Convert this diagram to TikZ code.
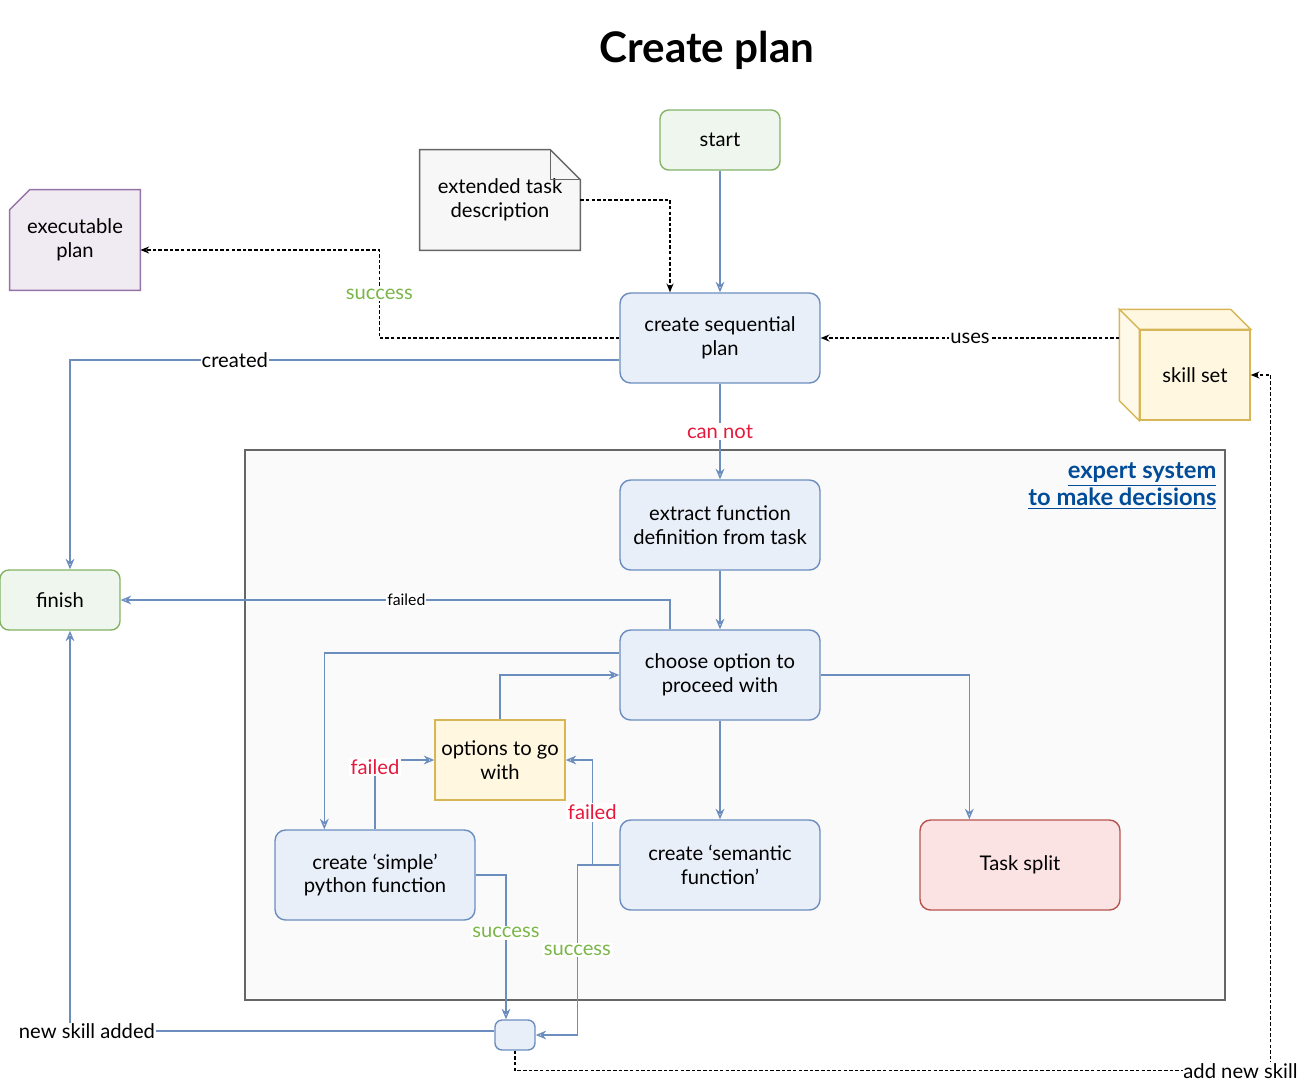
\documentclass[tikz,border=0pt]{standalone}
\usepackage{fontspec}
\setmainfont{Lato}
\setsansfont{Lato}
\usetikzlibrary{arrows.meta,shapes,calc,positioning,backgrounds}
\tikzstyle{every picture}+=[font=\sffamily]
\definecolor{lineblue}{HTML}{6C8EBF}
\definecolor{fillblue}{HTML}{E8EFF8}
\definecolor{linegreen}{HTML}{82B366}
\definecolor{fillgreen}{HTML}{EEF6ED}
\definecolor{lineyellow}{HTML}{D6B656}
\definecolor{fillyellow}{HTML}{FFF7E0}
\definecolor{linered}{HTML}{B85450}
\definecolor{fillred}{HTML}{FAE3E2}
\definecolor{linepurple}{HTML}{9673A6}
\definecolor{fillpurple}{HTML}{F0EBF3}
\definecolor{linegray}{HTML}{666666}
\definecolor{fillgray}{HTML}{F7F7F7}
\definecolor{fillpale}{HTML}{FAFAFA}
\definecolor{textred}{HTML}{E6193C}
\definecolor{textgreen}{HTML}{7AB648}
\definecolor{linkblue}{HTML}{004C99}

\begin{document}
\begin{tikzpicture}[x=0.02cm,y=-0.02cm,
    every node/.style={align=center,font=\sffamily\fontsize{11.5}{13.6}\selectfont},
    box/.style={draw=lineblue,fill=fillblue,rounded corners=6pt,minimum width=4cm,minimum height=1.8cm,line width=0.8pt},
    termbox/.style={draw=linegreen,fill=fillgreen,rounded corners=5pt,minimum width=2.4cm,minimum height=1.2cm,line width=0.8pt},
    optbox/.style={draw=lineyellow,fill=fillyellow,minimum width=2.6cm,minimum height=1.6cm,line width=0.8pt},
    splitbox/.style={draw=linered,fill=fillred,rounded corners=6pt,minimum width=4cm,minimum height=1.8cm,line width=0.8pt},
    flow/.style={-{Stealth[open,length=6pt,width=5pt]},draw=lineblue,line width=0.8pt},
    dep/.style={-{Stealth[open,length=5pt,width=4pt]},dash pattern=on 2pt off 1.2pt,line width=0.8pt},
    lbl/.style={fill=white,inner sep=1pt}]
    \useasboundingbox (0,0) rectangle (1299,1083);

    \node[draw=linegray,fill=fillpale,line width=0.8pt,minimum width=19.6cm,minimum height=11cm] (expert) at (735,725) {};
    \node[anchor=north east,align=right,text=linkblue,font=\sffamily\bfseries\fontsize{13.5}{15.3}\selectfont] (experttitle) at ($(expert.north east)+(-3,7)$) {\underline{expert system}\\\underline{to make decisions}};

    \node[font=\sffamily\bfseries\fontsize{24}{28}\selectfont] (title) at (707,50) {Create plan};
    \node[termbox] (start) at (720,140) {start};
    \node[minimum width=3.2cm,minimum height=2cm] (taskdesc) at (500,200) {extended task\\description};
    \node[minimum width=2.6cm,minimum height=2cm] (execplan) at (75,240) {executable\\plan};
    \node[box] (plan) at (720,338) {create sequential\\plan};
    \node[optbox,minimum width=2.2cm,minimum height=1.8cm] (skillset) at (1195,375) {skill set};
    \node[box] (extract) at (720,525) {extract function\\definition from task};
    \node[termbox] (finish) at (60,600) {finish};
    \node[box] (choose) at (720,675) {choose option to\\proceed with};
    \node[optbox] (options) at (500,760) {options to go\\with};
    \node[box] (simple) at (375,875) {create `simple'\\python function};
    \node[box] (semantic) at (720,865) {create `semantic\\function'};
    \node[splitbox] (split) at (1020,865) {Task split};
    \node[draw=lineblue,fill=fillblue,rounded corners=4pt,minimum width=0.8cm,minimum height=0.6cm,line width=0.8pt] (done) at (515,1035) {};

    \begin{scope}[on background layer]
        \draw[draw=linegray,fill=fillgray,line width=0.8pt] (taskdesc.north west) -- ($(taskdesc.north east)+(-30,0)$) -- ($(taskdesc.north east)+(0,30)$) -- (taskdesc.south east) -- (taskdesc.south west) -- cycle;
        \draw[draw=linepurple,fill=fillpurple,line width=0.8pt] ($(execplan.north west)+(0,20)$) -- ($(execplan.north west)+(20,0)$) -- (execplan.north east) -- (execplan.south east) -- (execplan.south west) -- cycle;
    \end{scope}
    \draw[draw=linegray,line width=0.8pt] ($(taskdesc.north east)+(-30,0)$) -- ($(taskdesc.north east)+(-30,30)$) -- ($(taskdesc.north east)+(0,30)$);
    \draw[draw=lineyellow,fill=fillyellow,line width=0.8pt] (skillset.north west) -- ++(-20,-20) -- ($(skillset.north east)+(-20,-20)$) -- (skillset.north east) -- cycle;
    \draw[draw=lineyellow,fill=fillyellow!70!white,line width=0.8pt] (skillset.north west) -- ++(-20,-20) -- ($(skillset.south west)+(-20,-20)$) -- (skillset.south west) -- cycle;
    \coordinate (skillback) at ($(skillset.west)+(-20,0)$);

    \path [flow] (start) edge (plan) (extract) edge (choose) (choose) edge (semantic);
    \draw[flow] (plan) -- (extract) node[midway,lbl,text=textred] {can not};
    \draw[dep] (taskdesc.east) -| ($(plan.north)+(-50,0)$);
    \draw[dep] (plan.west) -- ++(-240,0) |- ($(execplan.east)+(0,10)$) node[pos=0.25,lbl,text=textgreen] {success};
    \draw[dep] (plan.east -| skillback) -- (plan.east) node[midway,lbl,inner sep=0.5pt] {uses};
    \draw[flow] ($(plan.west)+(0,22)$) -| ($(finish.north)+(10,0)$) node[pos=0.35,lbl,inner sep=0.5pt] {created};
    \draw[flow] ($(choose.north)+(-50,0)$) |- (finish.east) node[pos=0.74,lbl,inner sep=0.5pt,font=\sffamily\fontsize{9}{11}\selectfont] {failed};
    \draw[flow] ($(choose.west)+(0,-22)$) -| ($(simple.north west)+(50,0)$);
    \draw[flow] (options.north) |- (choose.west);
    \draw[flow] (choose.east) -| ($(split.north west)+(50,0)$);
    \draw[flow] (simple.north) |- (options.west) node[pos=0.45,lbl,text=textred] {failed};
    \draw[flow] (semantic.west) -- ++(-27,0) |- (options.east) node[pos=0.25,lbl,text=textred] {failed};
    \draw[flow] (simple.east) -| ($(done.north)+(-9,0)$) node[pos=0.7,lbl,text=textgreen] {success};
    \draw[flow] (semantic.west) -- ++(-42,0) |- (done.east) node[pos=0.25,lbl,text=textgreen] {success};
    \draw[flow] ($(done.west)+(0,-4)$) -| ($(finish.south)+(10,0)$) node[pos=0.48,lbl,inner sep=0.5pt] {new skill added};
    \draw[dep] (done.south) -- ++(0,20) -| ($(skillset.east)+(20,0)$) node[pos=0.48,lbl,inner sep=0.5pt] {add new skill} -- (skillset.east);
\end{tikzpicture}
\end{document}
